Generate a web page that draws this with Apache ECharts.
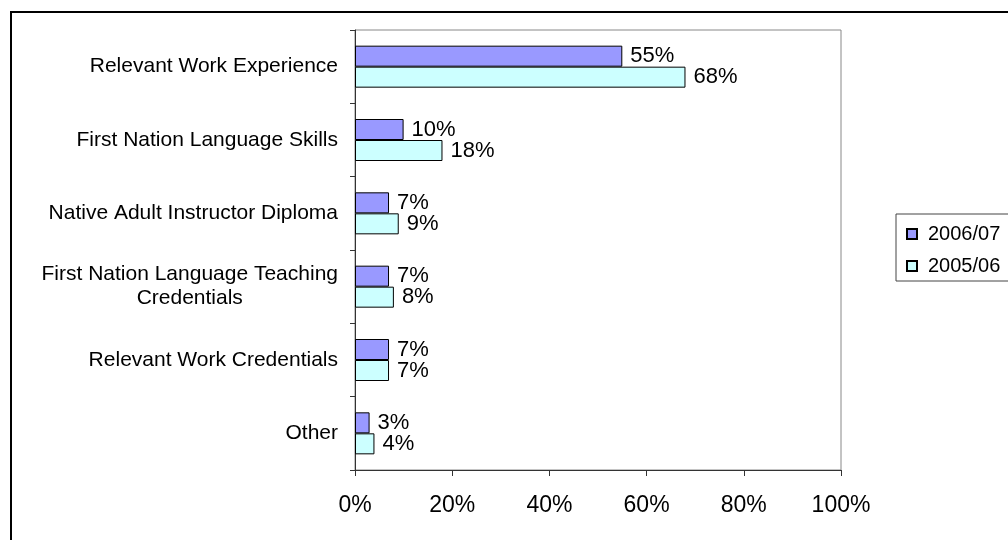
<!DOCTYPE html>
<html>

<head>
    <meta charset="utf-8">
    <title>Instructor qualifications</title>
    <script src="https://cdn.jsdelivr.net/npm/echarts@6/dist/echarts.min.js"></script>
</head>

<body style="margin:0">
    <div id="main" style="width: 1008px;height:540px;"></div>
    <script type="text/javascript">
    // categories, top to bottom
    var categories = [
        'Relevant Work Experience',
        'First Nation Language Skills',
        'Native Adult Instructor Diploma',
        'First Nation Language Teaching\nCredentials',
        'Relevant Work Credentials',
        'Other'
    ];
    var seriesNames = ['2006/07', '2005/06'];
    var values0607 = [55, 10, 7, 7, 7, 3];
    var values0506 = [68, 18, 9, 8, 7, 4];
    var xTicks = [0, 20, 40, 60, 80, 100];

    var FONT = '"Liberation Sans", Arial, sans-serif';

    // width of a line of category text, so the second line of a wrapped label can be centred under the first
    var ctx = document.createElement('canvas').getContext('2d');
    ctx.font = '21px "Liberation Sans"';

    var myChart = echarts.init(document.getElementById('main'));

    var option = {
        animation: false,
        textStyle: { fontFamily: FONT, color: '#000' },
        graphic: [{
            type: 'rect',
            shape: { x: 11, y: 12, width: 1100, height: 600 },
            style: { fill: 'none', stroke: '#000', lineWidth: 2 },
            silent: true
        }],
        legend: {
            data: seriesNames,
            orient: 'vertical',
            left: 896,
            top: 214,
            padding: [10, 30, 5, 10],
            borderColor: '#444',
            borderWidth: 1,
            itemWidth: 10,
            itemHeight: 10,
            itemGap: 12,
            icon: 'rect',
            textStyle: { fontSize: 20, fontFamily: FONT, color: '#000', padding: [0, 0, 0, 6] }
        },
        grid: {
            left: 355,
            right: 167,
            top: 30,
            bottom: 70,
            show: true,
            borderColor: '#888',
            borderWidth: 1
        },
        xAxis: {
            type: 'value',
            min: xTicks[0],
            max: xTicks[xTicks.length - 1],
            interval: 20,
            splitLine: { show: false },
            axisLine: { show: true, lineStyle: { color: '#333', width: 1 } },
            axisTick: { show: true, length: 6, lineStyle: { color: '#333' } },
            axisLabel: {
                formatter: '{value}%',
                fontSize: 23,
                margin: 24,
                color: '#000',
                fontFamily: FONT
            }
        },
        yAxis: {
            type: 'category',
            data: categories,
            inverse: true,
            axisLine: { show: true, lineStyle: { color: '#333', width: 1 } },
            axisTick: { show: true, length: 5, lineStyle: { color: '#333' } },
            axisLabel: {
                fontSize: 21,
                margin: 17,
                color: '#000',
                fontFamily: FONT,
                lineHeight: 24,
                formatter: function (val) {
                    if (val.indexOf('\n') < 0) return val;
                    var parts = val.split('\n');
                    return '{a|' + parts[0] + '}\n{b|' + parts[1] + '}';
                },
                rich: {
                    a: { fontSize: 21, lineHeight: 24, fontFamily: FONT, color: '#000' },
                    b: {
                        fontSize: 21, lineHeight: 24, fontFamily: FONT, color: '#000',
                        align: 'center',
                        width: ctx.measureText(categories[3].split('\n')[0]).width
                    }
                }
            }
        },
        series: [{
                name: seriesNames[0],
                type: 'bar',
                data: values0607,
                barWidth: 21,
                barGap: '0%',
                itemStyle: { color: '#9999FF', borderColor: '#000', borderWidth: 1 },
                label: {
                    show: true,
                    position: 'right',
                    distance: 8,
                    formatter: '{c}%',
                    fontSize: 22,
                    color: '#000',
                    fontFamily: FONT
                }
            },
            {
                name: seriesNames[1],
                type: 'bar',
                data: values0506,
                barWidth: 21,
                barGap: '0%',
                itemStyle: { color: '#CCFFFF', borderColor: '#000', borderWidth: 1 },
                label: {
                    show: true,
                    position: 'right',
                    distance: 8,
                    formatter: '{c}%',
                    fontSize: 22,
                    color: '#000',
                    fontFamily: FONT
                }
            }
        ]
    };

    myChart.setOption(option);
    </script>
</body>

</html>
